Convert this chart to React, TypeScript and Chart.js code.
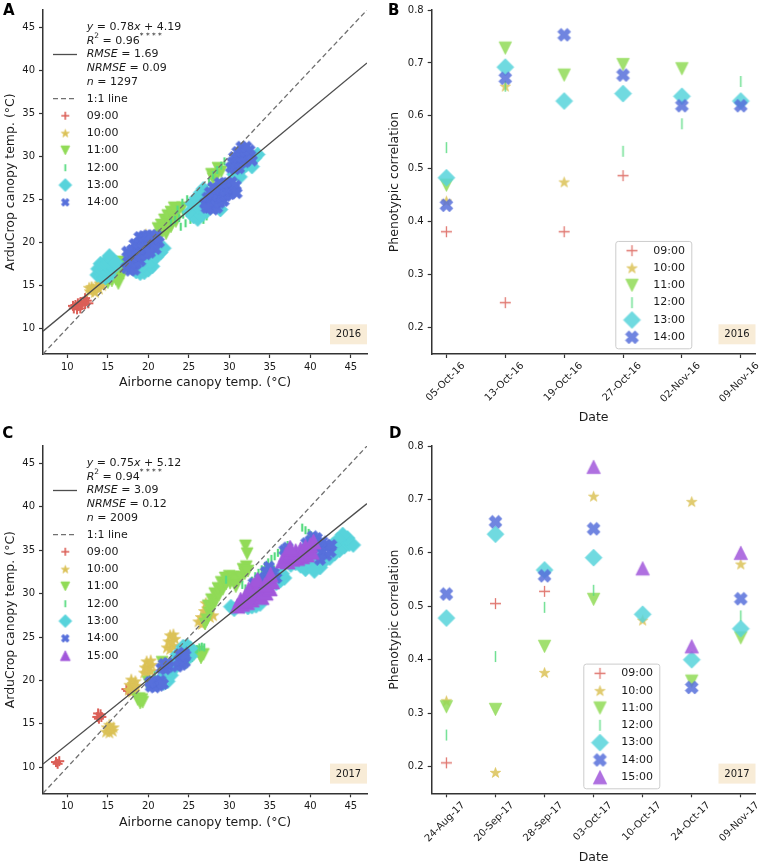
import React, { useEffect, useRef } from 'react';
import { Chart, registerables } from 'chart.js';

Chart.register(...registerables);

const FONT = '"DejaVu Sans", Verdana, sans-serif';
const INK = '#1a1a1a';
const SPINE = '#333333';

// ---------- shared ----------
const TIMES = ['09:00', '10:00', '11:00', '12:00', '13:00', '14:00', '15:00'];
const COLORS = ['#db5f57', '#dbc257', '#91db57', '#57db80', '#57d3db', '#5770db', '#a157db'];
const KINDS = ['plus', 'star', 'tridown', 'vline', 'diamond', 'xfill', 'triup'];

const TEMP_RANGE = [7, 47];
const TEMP_TICKS = [10, 15, 20, 25, 30, 35, 40, 45];
const CORR_RANGE = [0.15, 0.8];
const CORR_TICKS = [0.2, 0.3, 0.4, 0.5, 0.6, 0.7, 0.8];

// ---------- panel A (2016 scatter) ----------
const A_FIT = [0.78, 4.19];
const A_STATS = ['0.96', '1.69', '0.09', '1297'];
const A_0900 = [[10.8,12.3],[11.2,12.2],[11.6,12.3],[11.0,12.7],[11.4,12.6],[11.8,12.7],[12.2,12.8],[11.6,13.0],[12.0,13.1],[12.4,13.2],[12.6,12.9],[12.2,13.5],[11.3,12.9],[10.7,12.6]];
const A_1000 = [[12.8,14.3],[13.2,14.6],[13.6,14.9],[14.0,15.2],[13.4,14.2],[13.0,14.8],[13.9,14.6],[14.3,15.0],[12.7,14.7],[19.7,20.9],[19.4,20.6]];
const A_1100 = [[15.0,15.3],[15.5,15.5],[16.0,15.7],[16.5,16.0],[16.9,16.4],[16.6,16.9],[16.2,16.5],[15.7,16.1],[15.3,15.8],[17.0,17.2],[16.8,17.7],[16.3,15.2],
  [21.0,20.2],[21.4,20.8],[21.8,21.3],[22.2,21.8],[22.6,22.3],[23.0,22.8],[23.4,23.3],[23.8,23.8],[22.0,22.6],[22.4,23.1],[22.8,23.5],[23.2,24.0],[21.6,22.0],[22.2,21.0],[22.8,21.8],[23.4,22.4],[24.2,24.0],[21.2,21.6],
  [28.0,27.4],[28.5,27.8],[29.0,28.2],[28.6,28.6],[27.8,27.9]];
const A_1200 = [[22.8,22.3],[23.3,22.6],[23.8,22.8],[24.3,23.2],[24.8,23.4],[25.3,23.7],[25.8,24.2],[26.3,24.5],[24.0,21.8],[24.6,22.2],[25.2,22.6],[23.6,23.8],[24.2,24.6],[24.8,25.0],[26.8,22.6],[27.2,23.0],[26.0,25.2],[27.5,27.0],[28.0,27.8],[28.5,28.4],[29.0,28.9],[29.4,29.4],[27.2,26.2],[16.8,17.6],[17.3,18.0]];
const A_1300 = [[13.7,16.2],[14.2,16.0],[14.7,15.9],[15.2,16.1],[13.8,16.9],[14.3,16.8],[14.8,16.9],[15.3,17.0],[15.8,17.1],[14.1,17.5],[14.6,17.6],[15.1,17.7],[15.6,17.9],[15.2,18.4],[16.0,17.6],
  [18.5,16.6],[19.0,16.4],[19.5,16.5],[20.0,16.8],[20.5,17.2],[19.3,17.3],[20.3,17.8],[21.0,18.3],[21.5,18.8],[21.9,19.3],[18.2,17.2],
  [25.1,23.5],[25.6,23.0],[26.1,22.7],[26.6,23.2],[25.4,24.5],[26.0,25.2],[26.5,25.8],[26.2,24.1],[27.0,24.4],[27.4,25.3],[26.8,26.2],
  [28.9,23.8],[27.2,23.6],[30.5,26.0],
  [30.6,27.9],[31.1,28.2],[31.6,28.6],[32.1,29.0],[32.6,29.4],[33.1,29.8],[33.5,30.2],[31.3,27.6],[32.8,28.8]];
const A_1400 = [[17.3,17.0],[17.8,16.7],[18.3,16.8],[17.5,17.7],[18.0,17.6],[18.5,17.5],[19.0,17.8],[17.7,18.4],[18.2,18.3],[18.7,18.3],[19.2,18.5],[19.7,18.6],[18.0,19.1],[18.5,19.1],[19.0,19.2],[19.5,19.3],[20.0,19.4],[20.5,19.6],[18.3,19.8],[18.8,19.9],[19.3,20.0],[19.8,20.1],[20.3,20.2],[20.8,20.3],[18.9,20.6],[19.4,20.7],[19.9,20.8],[20.4,20.8],[21.0,20.8],[21.3,20.0],[20.9,19.2],[20.2,18.8],[17.4,18.9],
  [27.0,24.5],[27.5,24.0],[28.0,23.8],[28.5,24.0],[27.3,25.2],[27.8,24.9],[28.3,24.7],[28.8,24.6],[29.3,24.8],[27.6,25.8],[28.1,25.6],[28.6,25.4],[29.1,25.3],[29.6,25.4],[30.1,25.6],[28.0,26.4],[28.5,26.2],[29.0,26.1],[29.5,26.0],[30.0,26.2],[30.5,26.3],[28.8,26.9],[29.3,26.8],[29.8,26.9],[30.3,27.0],[30.8,26.6],[30.9,25.7],[27.2,24.0],
  [30.2,28.7],[30.7,28.5],[31.2,28.6],[30.4,29.3],[30.9,29.2],[31.4,29.2],[31.9,29.3],[30.6,29.9],[31.1,29.9],[31.6,29.9],[32.1,30.0],[32.6,30.1],[31.0,30.5],[31.5,30.6],[32.0,30.6],[32.5,30.7],[31.5,31.1],[32.1,31.1],[32.8,29.5]];

// ---------- panel C (2017 scatter) ----------
const C_FIT = [0.75, 5.12];
const C_STATS = ['0.94', '3.09', '0.12', '2009'];
const C_0900 = [[8.6,10.6],[9.0,10.7],[8.8,10.4],[13.7,15.8],[14.1,16.1],[13.9,15.6],[14.2,15.8],[13.8,16.2],[17.3,19.0],[17.5,18.8]];
const C_1000 = [[14.8,14.1],[15.2,14.0],[15.6,14.2],[14.9,14.6],[15.3,14.5],[15.7,14.6],[15.2,14.9],
  [17.6,18.9],[18.0,18.7],[18.3,19.1],[17.7,19.5],[18.1,19.6],[18.4,19.9],[17.9,20.1],[18.5,19.4],
  [19.5,20.9],[19.9,20.8],[20.3,21.1],[19.6,21.5],[20.0,21.6],[20.4,21.8],[19.8,22.2],[20.3,22.3],
  [22.3,23.8],[22.7,23.6],[23.1,24.0],[22.5,24.5],[22.9,24.5],[23.3,24.8],[22.7,25.2],[23.1,25.3],
  [26.2,26.8],[26.6,26.5],[26.5,27.3],[26.9,27.2],[27.3,27.6],[26.9,28.0],[27.3,28.3],[27.7,28.6],[27.6,27.3],[27.1,28.9],[28.0,27.5]];
const C_1100 = [[18.7,17.8],[19.2,17.8],[19.0,17.4],[18.9,17.9],[19.3,17.5],
  [20.0,19.8],[21.7,22.1],[22.3,21.7],
  [25.6,23.0],[26.2,23.3],[26.8,23.0],[26.5,22.6],
  [27.2,27.0],[27.5,27.8],[27.4,28.6],[27.9,28.4],[27.8,29.3],[28.3,29.2],[28.2,30.0],[28.7,29.8],[28.6,30.6],[29.2,30.5],[29.0,31.3],[29.6,31.1],[30.1,31.2],[30.6,31.3],[29.5,31.8],[30.0,32.0],[30.5,31.9],[31.0,31.5],[31.5,31.9],[31.9,32.3],[32.1,33.1],[31.7,32.8],[32.3,32.6],[30.8,30.8],[32.0,35.5],[32.2,34.6],[27.0,26.5]];
const C_1200 = [[24.6,21.8],[25.0,22.2],[25.4,22.6],[25.8,23.1],[26.0,23.6],[26.3,23.8],[26.6,23.9],[26.9,23.8],[24.3,22.4],[25.2,23.3],[20.3,20.0],[20.8,20.6],[19.8,19.6],
  [32.8,31.5],[33.2,32.0],[33.6,32.4],[34.0,32.8],[34.4,33.2],[34.8,33.6],[35.2,34.0],[35.6,34.3],[36.0,34.7],[36.4,35.0],[36.8,35.3],[37.2,35.6],[34.2,31.8],[35.5,32.8],[31.6,31.0],[32.0,30.6],[29.6,31.6],
  [39.0,37.6],[39.4,37.3],[39.8,37.0],[40.1,36.7]];
const C_1300 = [[21.4,19.8],[21.9,19.7],[22.4,19.9],[21.8,20.4],[22.3,20.4],[22.8,20.6],[22.2,21.1],[22.7,21.2],[23.2,21.4],[23.0,22.0],[23.5,22.2],[24.0,22.5],[23.6,23.0],[24.1,23.2],[24.6,23.4],[24.3,23.9],[24.8,24.0],[25.2,23.7],[25.2,22.8],
  [30.2,28.5],[30.6,28.2],
  [31.8,28.6],[32.3,28.4],[32.8,28.5],[33.3,28.6],[33.8,28.8],
  [35.8,31.2],[36.3,31.5],[36.8,31.8],[36.5,32.3],[35.6,32.1],
  [37.6,33.3],[38.2,33.5],[38.8,33.2],[39.4,32.8],[40.0,33.6],[40.6,33.9],[41.2,34.2],[41.8,33.8],[42.4,34.1],[43.0,34.6],[43.6,35.0],[44.2,35.4],[44.8,35.7],[45.3,35.6],[44.6,36.4],[44.0,36.8],[43.4,36.2],[42.8,35.6],[39.6,34.3],[38.5,34.0],[41.2,33.0],[40.5,32.6]];
const C_1400 = [[20.3,19.3],[20.8,19.2],[21.3,19.4],[20.5,19.9],[21.0,19.8],[21.5,20.0],[21.8,19.6],[20.2,19.8],
  [21.6,21.4],[22.1,21.3],[22.5,21.6],[21.9,21.9],[22.4,22.0],
  [23.6,21.6],[24.1,21.8],[24.5,22.1],[23.8,22.3],[24.3,22.6],[23.9,23.0],[24.4,23.2],[24.6,22.9],
  [32.9,29.8],[33.4,29.6],[33.2,30.4],[33.7,30.3],[34.2,30.5],[33.5,31.0],[34.0,31.1],[34.5,31.2],[33.8,31.7],[34.3,31.8],[34.8,32.0],[34.5,32.5],[35.0,32.6],[35.5,32.4],[34.9,33.1],[35.8,31.8],[33.0,31.2],
  [36.8,35.0],[37.2,35.3],
  [39.5,35.8],[40.0,36.1],[40.5,35.6],[41.0,35.2],[41.5,34.8],[42.0,34.4],[42.5,34.8],[42.0,35.6],[41.5,36.0],[40.8,36.4],[41.2,33.9],[42.6,35.6],[40.3,36.6]];
const C_1500 = [[31.0,28.6],[31.6,28.8],[32.2,29.0],[32.8,29.3],[31.4,29.3],[32.0,29.6],[32.6,29.9],[33.2,30.2],[33.0,31.0],[33.5,31.6],[32.4,30.5],
  [34.0,29.6],[34.5,30.1],[35.0,30.6],[35.3,31.4],[35.1,32.2],[34.4,31.0],
  [36.6,33.8],[37.2,33.7],[37.8,34.0],[38.4,34.1],[39.0,34.3],[39.6,34.5],[40.2,34.8],[37.0,34.5],[37.6,34.7],[38.2,34.9],[38.8,35.1],[39.4,35.4],[40.0,35.6],[40.4,36.0],[37.5,35.3]];

// ---------- panel B (2016 correlations) ----------
const DATES_B = ['05-Oct-16', '13-Oct-16', '19-Oct-16', '27-Oct-16', '02-Nov-16', '09-Nov-16'];
const B_0900 = [0.381, 0.247, 0.381, 0.487, null, null];
const B_1000 = [0.439, 0.656, 0.475, null, null, null];
const B_1100 = [0.469, 0.728, 0.677, 0.697, 0.689, null];
const B_1200 = [0.540, 0.656, null, 0.533, 0.585, 0.665];
const B_1300 = [0.483, 0.692, 0.628, 0.642, 0.637, 0.628];
const B_1400 = [0.431, 0.671, 0.753, 0.677, 0.619, 0.619];

// ---------- panel D (2017 correlations) ----------
const DATES_D = ['24-Aug-17', '20-Sep-17', '28-Sep-17', '03-Oct-17', '10-Oct-17', '24-Oct-17', '09-Nov-17'];
const D_0900 = [0.207, 0.505, 0.528, null, null, null, null];
const D_1000 = [0.323, 0.189, 0.376, 0.706, 0.474, 0.696, 0.579];
const D_1100 = [0.312, 0.307, 0.425, 0.513, null, 0.360, 0.441];
const D_1200 = [0.259, 0.406, 0.498, 0.530, null, null, 0.482];
const D_1300 = [0.478, 0.635, 0.568, 0.591, 0.485, 0.400, 0.458];
const D_1400 = [0.523, 0.658, 0.557, 0.645, null, 0.348, 0.514];
const D_1500 = [null, null, null, 0.761, 0.571, 0.425, 0.600];

// marker sizes (full extent, px) and stroke widths for line-type markers
const LEGEND_SMALL = [8, 8.5, 9, 7, 13, 8, 10];
const SCATTER_SMALL = [10, 12, 12, 8, 15, 11.5, 15];
const BIG_SIZES = [11, 11, 12.5, 11, 17, 13, 13.5];

// ---------- helpers ----------
function rgba(hex: string, a: number) {
  const n = parseInt(hex.slice(1), 16);
  return `rgba(${n >> 16},${(n >> 8) & 255},${n & 255},${a})`;
}

const markerCache = new Map<string, HTMLCanvasElement>();
function makeMarker(kind: string, size: number, color: string, lineW = 1.3): HTMLCanvasElement {
  const key = kind + '|' + size + '|' + color + '|' + lineW;
  const hit = markerCache.get(key);
  if (hit) return hit;
  const dim = Math.ceil(size) + 4;
  const c = document.createElement('canvas');
  c.width = dim;
  c.height = dim;
  const g = c.getContext('2d')!;
  const m = dim / 2;
  const r = size / 2;
  g.fillStyle = color;
  g.strokeStyle = color;
  g.beginPath();
  if (kind === 'plus') {
    g.lineWidth = lineW;
    g.moveTo(m - r, m); g.lineTo(m + r, m);
    g.moveTo(m, m - r); g.lineTo(m, m + r);
    g.stroke();
  } else if (kind === 'vline') {
    g.lineWidth = lineW + 0.2;
    g.moveTo(m, m - r); g.lineTo(m, m + r);
    g.stroke();
  } else {
    if (kind === 'star') {
      for (let k = 0; k < 10; k++) {
        const a = -Math.PI / 2 + (k * Math.PI) / 5;
        const rr = k % 2 ? r * 0.39 : r;
        const px = m + rr * Math.cos(a);
        const py = m + 0.5 + rr * Math.sin(a);
        if (k === 0) g.moveTo(px, py); else g.lineTo(px, py);
      }
    } else if (kind === 'tridown') {
      g.moveTo(m, m + r); g.lineTo(m - r, m - r); g.lineTo(m + r, m - r);
    } else if (kind === 'triup') {
      g.moveTo(m, m - r); g.lineTo(m - r, m + r); g.lineTo(m + r, m + r);
    } else if (kind === 'diamond') {
      g.moveTo(m, m - r); g.lineTo(m + r, m); g.lineTo(m, m + r); g.lineTo(m - r, m);
    } else if (kind === 'xfill') {
      const R = r / (1.36 * Math.SQRT1_2);
      const T = 0.36 * R;
      const pts = [[-T, -R], [T, -R], [T, -T], [R, -T], [R, T], [T, T], [T, R], [-T, R], [-T, T], [-R, T], [-R, -T], [-T, -T]];
      pts.forEach(([x, y], k) => {
        const px = m + (x - y) * Math.SQRT1_2;
        const py = m + (x + y) * Math.SQRT1_2;
        if (k === 0) g.moveTo(px, py); else g.lineTo(px, py);
      });
    }
    g.closePath();
    g.fill();
    g.lineWidth = 0.7;
    g.stroke();
  }
  markerCache.set(key, c);
  return c;
}

type Part = { t: string; it?: boolean; sup?: boolean };
function drawParts(ctx: CanvasRenderingContext2D, x: number, y: number, parts: Part[], size: number) {
  let cx = x;
  for (const p of parts) {
    const fs = p.sup ? size * 0.68 : size;
    ctx.font = `${p.it ? 'italic ' : ''}${fs}px ${FONT}`;
    ctx.fillText(p.t, cx, p.sup ? y - size * 0.42 : y);
    cx += ctx.measureText(p.t).width;
  }
}

function yearBox(ctx: CanvasRenderingContext2D, ca: any, text: string) {
  const w = 37, h = 20;
  const x = ca.right - w;
  const y = ca.bottom - 9.7 - h;
  ctx.fillStyle = '#f8ecd7';
  ctx.fillRect(x, y, w, h);
  ctx.fillStyle = INK;
  ctx.font = `10px ${FONT}`;
  ctx.textAlign = 'center';
  ctx.textBaseline = 'middle';
  ctx.fillText(text, x + w / 2, y + h / 2 + 0.5);
  ctx.textAlign = 'left';
}

function statsLegendPlugin(fit: number[], stats: string[], nSeries: number, year: string) {
  return {
    id: 'statsLegend',
    afterDraw(chart: any) {
      const { ctx, chartArea: ca } = chart;
      ctx.save();
      ctx.textBaseline = 'middle';
      ctx.textAlign = 'left';
      ctx.fillStyle = INK;
      const tx = ca.left + 43.7;
      const y0 = ca.top + 17.3;
      const lines: Part[][] = [
        [{ t: 'y', it: true }, { t: ' = ' + fit[0].toFixed(2) }, { t: 'x', it: true }, { t: ' + ' + fit[1].toFixed(2) }],
        [{ t: 'R', it: true }, { t: '2', sup: true }, { t: ' = ' + stats[0] }, { t: '* * * *', sup: true }],
        [{ t: 'RMSE', it: true }, { t: ' = ' + stats[1] }],
        [{ t: 'NRMSE', it: true }, { t: ' = ' + stats[2] }],
        [{ t: 'n', it: true }, { t: ' = ' + stats[3] }],
      ];
      lines.forEach((parts, i) => drawParts(ctx, tx, y0 + i * 13.6, parts, 11));
      ctx.strokeStyle = '#4d4d4d';
      ctx.lineWidth = 1.3;
      ctx.beginPath();
      ctx.moveTo(ca.left + 10, y0 + 2 * 13.6);
      ctx.lineTo(ca.left + 34, y0 + 2 * 13.6);
      ctx.stroke();
      const y1 = y0 + 71.4;
      ctx.strokeStyle = '#707070';
      ctx.setLineDash([5, 3]);
      ctx.beginPath();
      ctx.moveTo(ca.left + 10, y1);
      ctx.lineTo(ca.left + 34, y1);
      ctx.stroke();
      ctx.setLineDash([]);
      drawParts(ctx, tx, y1, [{ t: '1:1 line' }], 11);
      for (let i = 0; i < nSeries; i++) {
        const y = y1 + 17 + i * 17.33;
        const img = makeMarker(KINDS[i], LEGEND_SMALL[i], COLORS[i], 1.6);
        ctx.drawImage(img, ca.left + 22.3 - img.width / 2, y - img.height / 2);
        ctx.fillStyle = INK;
        drawParts(ctx, tx, y, [{ t: TIMES[i] }], 11);
      }
      yearBox(ctx, ca, year);
      ctx.restore();
    },
  };
}

function boxLegendPlugin(nSeries: number, dx: number, dyBottom: number, year: string) {
  return {
    id: 'boxLegend',
    afterDraw(chart: any) {
      const { ctx, chartArea: ca } = chart;
      ctx.save();
      const w = 76;
      const h = 9.7 + (nSeries - 1) * 17.33 + 11;
      const left = ca.left + dx;
      const bottom = ca.bottom - dyBottom;
      const top = bottom - h;
      ctx.beginPath();
      ctx.roundRect(left + 0.5, top + 0.5, w, h, 2.5);
      ctx.fillStyle = 'rgba(255,255,255,0.8)';
      ctx.fill();
      ctx.strokeStyle = '#cccccc';
      ctx.lineWidth = 1;
      ctx.stroke();
      ctx.textBaseline = 'middle';
      ctx.textAlign = 'left';
      for (let i = 0; i < nSeries; i++) {
        const y = top + 9.7 + i * 17.33;
        const img = makeMarker(KINDS[i], BIG_SIZES[i], rgba(COLORS[i], 0.85));
        ctx.drawImage(img, left + 16.7 - img.width / 2, y - img.height / 2);
        ctx.fillStyle = INK;
        drawParts(ctx, left + 38, y, [{ t: TIMES[i] }], 11);
      }
      yearBox(ctx, ca, year);
      ctx.restore();
    },
  };
}

function axisBase(extraTicks: any, title: string, titlePad: any, fitFn: (s: any) => void) {
  return {
    type: 'linear',
    afterFit: fitFn,
    grid: { display: true, drawOnChartArea: false, drawTicks: true, tickLength: 4, tickWidth: 1.2, tickColor: SPINE },
    border: { display: true, color: SPINE, width: 1.5 },
    ticks: { color: INK, font: { family: FONT, size: 10 }, autoSkip: false, ...extraTicks },
    title: { display: true, text: title, color: INK, font: { family: FONT, size: 12.5 }, padding: titlePad },
  };
}

function tempConfig(series: number[][][], fit: number[], stats: string[], year: string, yW: number, xH: number, padTop: number, xTitlePad: number) {
  const datasets: any[] = series.map((pts, i) => ({
    type: 'scatter',
    label: TIMES[i],
    data: pts.map(([x, y]) => ({ x, y })),
    pointStyle: makeMarker(KINDS[i], SCATTER_SMALL[i], COLORS[i], 2),
    pointRadius: SCATTER_SMALL[i] / 2,
    order: series.length - i + 1,
  }));
  datasets.push({
    type: 'line',
    label: '1:1 line',
    data: TEMP_RANGE.map((v) => ({ x: v, y: v })),
    borderColor: '#707070',
    borderWidth: 1.3,
    borderDash: [5, 3],
    pointRadius: 0,
    order: 0,
  });
  datasets.push({
    type: 'line',
    label: 'fit',
    data: TEMP_RANGE.map((v) => ({ x: v, y: fit[0] * v + fit[1] })),
    borderColor: '#4d4d4d',
    borderWidth: 1.3,
    pointRadius: 0,
    order: 0,
  });
  return {
    type: 'scatter',
    data: { datasets },
    options: {
      animation: false,
      responsive: false,
      events: [],
      layout: { padding: { left: 0, top: padTop, right: 13, bottom: 0 } },
      plugins: { legend: { display: false }, tooltip: { enabled: false } },
      scales: {
        x: {
          ...axisBase({ padding: 3, maxRotation: 0 }, 'Airborne canopy temp. (°C)', { top: 0, bottom: xTitlePad }, (s: any) => { s.height = xH; }),
          min: TEMP_RANGE[0], max: TEMP_RANGE[1],
          afterBuildTicks: (s: any) => { s.ticks = TEMP_TICKS.map((value) => ({ value })); },
        },
        y: {
          ...axisBase({ padding: 4 }, 'ArduCrop canopy temp. (°C)', { top: 3, bottom: 0 }, (s: any) => { s.width = yW; }),
          min: TEMP_RANGE[0], max: TEMP_RANGE[1],
          afterBuildTicks: (s: any) => { s.ticks = TEMP_TICKS.map((value) => ({ value })); },
        },
      },
    },
    plugins: [statsLegendPlugin(fit, stats, series.length, year)],
  };
}

function corrConfig(series: (number | null)[][], dates: string[], year: string, yW: number, xH: number, padTop: number, xTitlePad: number, legendDx: number, legendDy: number) {
  const margin = (dates.length - 1) * 0.05;
  const datasets: any[] = series.map((vals, i) => ({
    type: 'scatter',
    label: TIMES[i],
    data: vals.map((v, k) => (v == null ? null : { x: k, y: v })).filter((p) => p !== null),
    pointStyle: makeMarker(KINDS[i], BIG_SIZES[i], rgba(COLORS[i], 0.85)),
    pointRadius: BIG_SIZES[i] / 2,
    order: series.length - i + 1,
  }));
  return {
    type: 'scatter',
    data: { datasets },
    options: {
      animation: false,
      responsive: false,
      events: [],
      layout: { padding: { left: 0, top: padTop, right: 9, bottom: 0 } },
      plugins: { legend: { display: false }, tooltip: { enabled: false } },
      scales: {
        x: {
          ...axisBase({ padding: 2, minRotation: 45, maxRotation: 45, labelOffset: 17, callback: (v: any) => dates[v] ?? '' }, 'Date', { top: 0, bottom: xTitlePad }, (s: any) => { s.height = xH; }),
          min: -margin, max: dates.length - 1 + margin,
          afterBuildTicks: (s: any) => { s.ticks = dates.map((_, value) => ({ value })); },
        },
        y: {
          ...axisBase({ padding: 4, callback: (v: any) => Number(v).toFixed(1) }, 'Phenotypic correlation', { top: 7.5, bottom: 0 }, (s: any) => { s.width = yW; }),
          min: CORR_RANGE[0], max: CORR_RANGE[1],
          afterBuildTicks: (s: any) => { s.ticks = CORR_TICKS.map((value) => ({ value })); },
        },
      },
    },
    plugins: [boxLegendPlugin(series.length, legendDx, legendDy, year)],
  };
}

function ChartBox({ left, top, width, height, build }: any) {
  const ref = useRef<HTMLCanvasElement>(null);
  useEffect(() => {
    const chart = new Chart(ref.current as HTMLCanvasElement, build());
    return () => chart.destroy();
  }, []);
  return (
    <div style={{ position: 'absolute', left, top, width, height }}>
      <canvas ref={ref} width={width} height={height} style={{ width, height, display: 'block' }} />
    </div>
  );
}

const letterStyle = (left: number, top: number): React.CSSProperties => ({
  position: 'absolute', left, top, fontFamily: FONT, fontWeight: 'bold', fontSize: 15, lineHeight: '15px', color: '#000',
});

export default function App() {
  return (
    <div style={{ position: 'absolute', left: 0, top: 0, width: 765, height: 867, background: '#fff', overflow: 'hidden' }}>
      <ChartBox left={0} top={0} width={380} height={420}
        build={() => tempConfig([A_0900, A_1000, A_1100, A_1200, A_1300, A_1400], A_FIT, A_STATS, '2016', 43, 66, 7, 29.5)} />
      <ChartBox left={380} top={0} width={385} height={430}
        build={() => corrConfig([B_0900, B_1000, B_1100, B_1200, B_1300, B_1400], DATES_B, '2016', 51.7, 76, 7, 4.4, 183.6, 5.7)} />
      <ChartBox left={0} top={430} width={380} height={437}
        build={() => tempConfig([C_0900, C_1000, C_1100, C_1200, C_1300, C_1400, C_1500], C_FIT, C_STATS, '2017', 43, 73.7, 16, 37)} />
      <ChartBox left={380} top={430} width={385} height={437}
        build={() => corrConfig([D_0900, D_1000, D_1100, D_1200, D_1300, D_1400, D_1500], DATES_D, '2017', 51.7, 73.7, 16, 2.1, 151.6, 5)} />
      <div style={letterStyle(3, 3.3)}>A</div>
      <div style={letterStyle(388, 3.3)}>B</div>
      <div style={letterStyle(2.3, 426.3)}>C</div>
      <div style={letterStyle(389, 426.3)}>D</div>
    </div>
  );
}
